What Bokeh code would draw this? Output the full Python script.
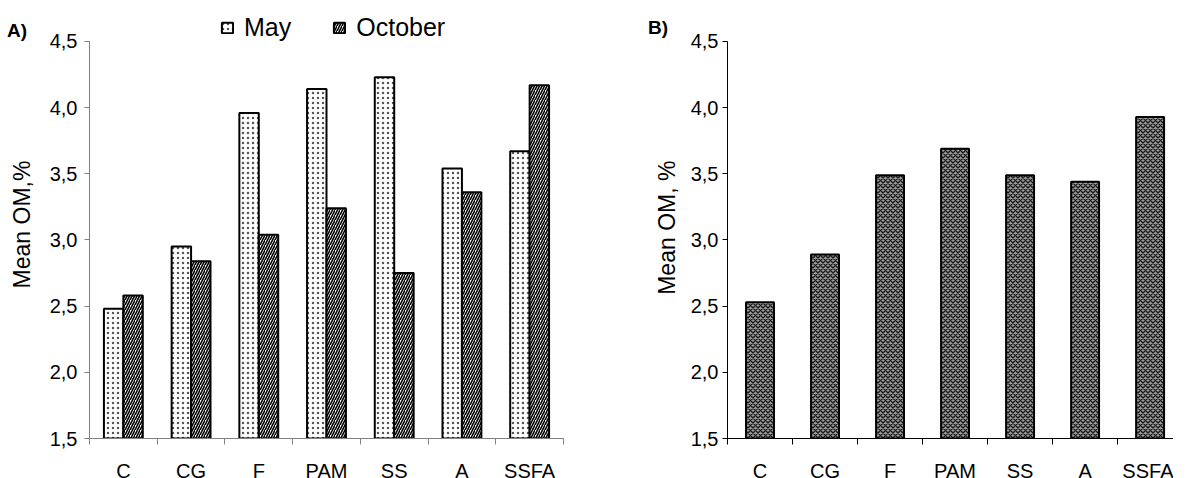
from bokeh.plotting import figure
from bokeh.layouts import row, column
from bokeh.models import (Range1d, FixedTicker, Legend, LegendItem, Div,
                          ColumnDataSource)
from bokeh.transform import dodge
from bokeh.embed import file_html
from bokeh.resources import INLINE

# ---------------- data ----------------
categories = ["C", "CG", "F", "PAM", "SS", "A", "SSFA"]
may = [2.48, 2.95, 3.96, 4.14, 4.23, 3.54, 3.67]
october = [2.58, 2.84, 3.04, 3.24, 2.75, 3.36, 4.17]
mean_om = [2.53, 2.89, 3.49, 3.69, 3.49, 3.44, 3.93]
y_ticks = [1.5, 2.0, 2.5, 3.0, 3.5, 4.0, 4.5]
y_tick_labels = ["1,5", "2,0", "2,5", "3,0", "3,5", "4,0", "4,5"]
series_names = ["May", "October"]
panel_labels = ["A)", "B)"]
y_title_a = "Mean OM,%"
y_title_b = "Mean OM,  %"

FONT = "Liberation Sans"

pos = [i + 0.5 for i in range(len(categories))]
src_a = ColumnDataSource(dict(x=pos, may=may, october=october))
src_b = ColumnDataSource(dict(x=pos, mean=mean_om))


def style_axes(p, axis_color, ylabel, label_standoff, tick_standoff):
    p.xaxis.ticker = FixedTicker(ticks=pos,
                                 minor_ticks=list(range(len(categories) + 1)))
    p.xaxis.major_label_overrides = {x: c for x, c in zip(pos, categories)}
    p.xaxis.major_tick_line_color = None
    p.xaxis.minor_tick_in = 0
    p.xaxis.minor_tick_out = 6
    p.xaxis.minor_tick_line_color = axis_color
    p.xaxis.axis_line_color = axis_color
    p.xaxis.major_label_text_font = FONT
    p.xaxis.major_label_text_font_size = "20px"
    p.xaxis.major_label_text_color = "black"
    p.xaxis.major_label_standoff = 15

    p.yaxis.ticker = FixedTicker(ticks=y_ticks, minor_ticks=[])
    p.yaxis.bounds = (y_ticks[0], y_ticks[-1])
    p.yaxis.major_label_overrides = {t: l for t, l in zip(y_ticks, y_tick_labels)}
    p.yaxis.major_tick_in = 0
    p.yaxis.major_tick_out = 5
    p.yaxis.major_tick_line_color = axis_color
    p.yaxis.axis_line_color = axis_color
    p.yaxis.major_label_text_font = FONT
    p.yaxis.major_label_text_font_size = "20px"
    p.yaxis.major_label_text_color = "black"
    p.yaxis.major_label_standoff = tick_standoff
    p.yaxis.axis_label = ylabel
    p.yaxis.axis_label_text_font = FONT
    p.yaxis.axis_label_text_font_size = "23px"
    p.yaxis.axis_label_text_font_style = "normal"
    p.yaxis.axis_label_text_color = "black"
    p.yaxis.axis_label_standoff = label_standoff

    p.xgrid.visible = False
    p.ygrid.visible = False
    p.outline_line_color = None
    p.background_fill_alpha = 0
    p.border_fill_alpha = 0


# Both frames reach up to the page top (so the legend sits inside the frame);
# the y axes themselves are bounded to 1,5 - 4,5.
Y_TOP = 4.734

# ---------------- panel A ----------------
pa = figure(frame_width=474, frame_height=428,
            min_border_left=89, min_border_right=77,
            min_border_top=0, min_border_bottom=41,
            x_range=Range1d(0, len(categories)), y_range=Range1d(1.5, Y_TOP),
            output_backend="svg", toolbar_location=None, tools="")
pa.title = None
style_axes(pa, "#808080", y_title_a, 12, 7)

bw = 0.287
r_may = pa.vbar(x=dodge("x", -bw / 2, range=pa.x_range), top="may", bottom=1.5,
                width=bw, source=src_a,
                fill_color="white", line_color="black", line_width=2,
                hatch_pattern="dot", hatch_color="#555555",
                hatch_scale=5, hatch_weight=1.6)
r_oct = pa.vbar(x=dodge("x", bw / 2, range=pa.x_range), top="october", bottom=1.5,
                width=bw, source=src_a,
                fill_color="white", line_color="black", line_width=2,
                hatch_pattern="right_diagonal_line", hatch_color="black",
                hatch_scale=5, hatch_weight=1.6)

legend = Legend(items=[LegendItem(label=series_names[0], renderers=[r_may]),
                       LegendItem(label=series_names[1], renderers=[r_oct])],
                location=(131, 396), orientation="horizontal",
                padding=0, margin=0, spacing=41,
                glyph_width=14, glyph_height=13, label_height=24,
                label_standoff=10,
                label_text_font=FONT, label_text_font_size="25px",
                label_text_color="black",
                background_fill_alpha=0, border_line_color=None)
pa.add_layout(legend, "center")

# ---------------- panel B ----------------
pb = figure(frame_width=446, frame_height=428,
            min_border_left=87, min_border_right=0,
            min_border_top=0, min_border_bottom=41,
            x_range=Range1d(0, 6.86), y_range=Range1d(1.5, Y_TOP),
            output_backend="svg", toolbar_location=None, tools="")
pb.title = None
style_axes(pb, "black", y_title_b, 8, 4)

pb.vbar(x="x", top="mean", bottom=1.5, width=0.43, source=src_b,
        fill_color="#9c9c9c", line_color="black", line_width=2,
        hatch_pattern="diagonal_cross", hatch_color="#1a1a1a",
        hatch_scale=5, hatch_weight=1.4)

# panel letters as real text, laid over the figure margins
lab_style = ("position:absolute; font-family:'Liberation Sans'; font-size:19px; "
             "font-weight:bold; color:black; line-height:1; white-space:nowrap;")
letters = Div(text=(f'<div style="{lab_style} left:2px; top:16px;">{panel_labels[0]}</div>'
                    f'<div style="{lab_style} left:643px; top:13px;">{panel_labels[1]}</div>'),
              width=1173, height=0, styles={"position": "relative", "overflow": "visible",
                                            "z-index": "5"})

layout = column(letters, row(pa, pb, spacing=0), spacing=0)
open("out.html", "w").write(file_html(layout, INLINE))
